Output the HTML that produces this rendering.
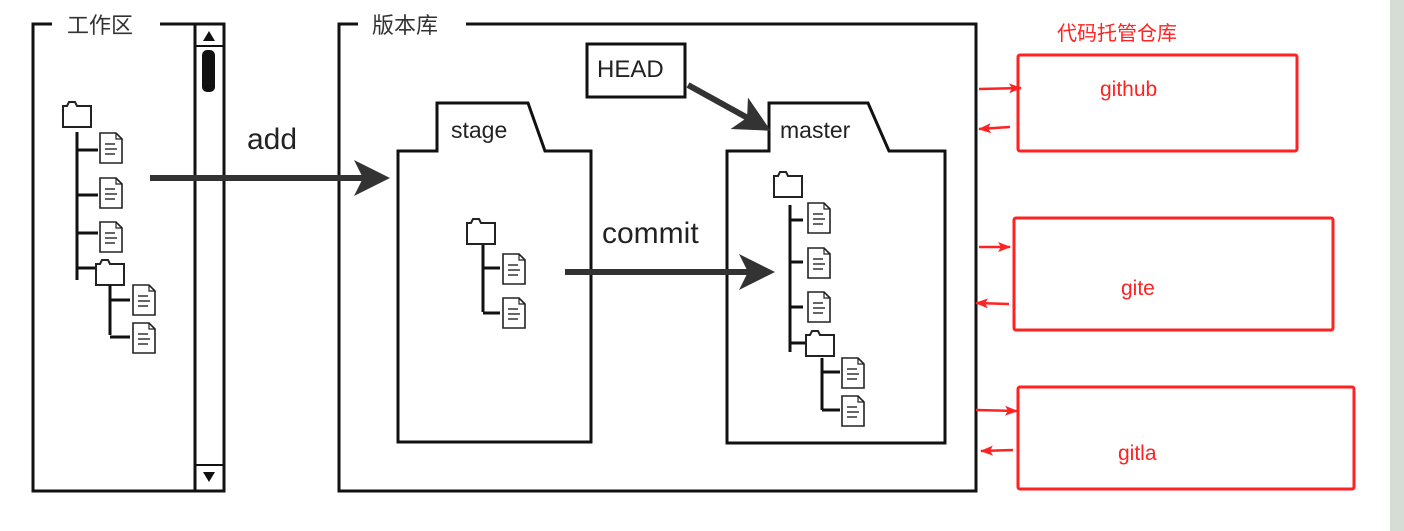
<!DOCTYPE html>
<html><head><meta charset="utf-8"><style>
html,body{margin:0;padding:0;background:#fff;width:1404px;height:531px;overflow:hidden}
svg{display:block}
</style></head><body>
<svg width="1404" height="531" viewBox="0 0 1404 531" xmlns="http://www.w3.org/2000/svg">
<defs>
<g id="f">
<path d="M0,0 H16 L22,6 V30 H0 Z" fill="#fff" stroke="#222" stroke-width="1.6"/>
<path d="M16,0 V6 H22" fill="none" stroke="#222" stroke-width="1.2"/>
<path d="M5,11 H15 M5,16 H17 M5,21 H15" stroke="#333" stroke-width="1.5"/>
</g>
<g id="d">
<path d="M0,4 H4 L6,0 H12 L14,4 H28 V25 H0 Z" fill="#fff" stroke="#222" stroke-width="2"/>
</g>
<marker id="ah" markerWidth="6" markerHeight="6" refX="3" refY="3" orient="auto" markerUnits="strokeWidth">
<path d="M0,0 L6,3 L0,6 L1.5,3 Z" fill="#333"/>
</marker>
<marker id="rh" markerWidth="13" markerHeight="10" refX="12" refY="5" orient="auto" markerUnits="userSpaceOnUse">
<path d="M0,0 L13,5 L0,10 L3,5 Z" fill="#f22"/>
</marker>
</defs>
<rect x="1390" y="0" width="14" height="531" fill="#d5ddd5"/>

<path d="M52,24 H33 V491 H224 V24 H160" fill="none" stroke="#111" stroke-width="3"/>
<text x="67" y="33" font-family="Liberation Sans,Noto Sans CJK SC,sans-serif" font-size="22" fill="#333">工作区</text>
<rect x="195" y="24" width="29" height="467" fill="#fff" stroke="#111" stroke-width="3"/>
<line x1="195" y1="46" x2="224" y2="46" stroke="#111" stroke-width="2"/>
<line x1="195" y1="465" x2="224" y2="465" stroke="#111" stroke-width="2"/>
<path d="M203,41 L209,31 L215,41 Z" fill="#111"/>
<path d="M203,472 L215,472 L209,482 Z" fill="#111"/>
<rect x="202" y="50" width="13" height="42" rx="5" fill="#111"/>

<use href="#d" x="63" y="102"/>
<path d="M77,132 V280 M77,150 H98 M77,195 H98 M77,233 H98 M77,268 H96" stroke="#111" stroke-width="3" fill="none"/>
<use href="#f" x="100" y="133"/>
<use href="#f" x="100" y="178"/>
<use href="#f" x="100" y="222"/>
<use href="#d" x="96" y="260"/>
<path d="M110,285 V335 M110,300 H130 M110,337 H130" stroke="#111" stroke-width="3" fill="none"/>
<use href="#f" x="133" y="285"/>
<use href="#f" x="133" y="323"/>

<path d="M358,24 H339 V491 H976 V24 H466" fill="none" stroke="#111" stroke-width="3"/>
<text x="372" y="33" font-family="Liberation Sans,Noto Sans CJK SC,sans-serif" font-size="22" fill="#333">版本库</text>

<path d="M398,442 V151 H437 V103 H528 L545,151 H591 V442 Z" fill="#fff" stroke="#111" stroke-width="3"/>
<text x="451" y="138" font-family="Liberation Sans,sans-serif" font-size="23" fill="#222">stage</text>
<use href="#d" x="467" y="219"/>
<path d="M483,245 V312 M483,268 H500 M483,313 H500" stroke="#111" stroke-width="3" fill="none"/>
<use href="#f" x="503" y="254"/>
<use href="#f" x="503" y="298"/>

<path d="M727,443 V151 H769 V103 H868 L889,151 H945 V443 Z" fill="#fff" stroke="#111" stroke-width="3"/>
<text x="780" y="138" font-family="Liberation Sans,sans-serif" font-size="23" fill="#222">master</text>
<use href="#d" x="774" y="172"/>
<path d="M790,205 V352 M790,220 H803 M790,262 H803 M790,307 H803 M790,343 H806" stroke="#111" stroke-width="3" fill="none"/>
<use href="#f" x="808" y="203"/>
<use href="#f" x="808" y="248"/>
<use href="#f" x="808" y="292"/>
<use href="#d" x="806" y="331"/>
<path d="M822,358 V410 M822,372 H840 M822,410 H840" stroke="#111" stroke-width="3" fill="none"/>
<use href="#f" x="842" y="358"/>
<use href="#f" x="842" y="396"/>

<rect x="587" y="44" width="98" height="53" fill="#fff" stroke="#111" stroke-width="3"/>
<text x="597" y="77" font-family="Liberation Sans,sans-serif" font-size="24" fill="#222">HEAD</text>
<line x1="688" y1="85" x2="755" y2="122" stroke="#333" stroke-width="6" marker-end="url(#ah)"/>

<line x1="150" y1="178" x2="372" y2="178" stroke="#333" stroke-width="6" marker-end="url(#ah)"/>
<text x="247" y="149" font-family="Liberation Sans,sans-serif" font-size="30" fill="#222">add</text>
<line x1="565" y1="272" x2="757" y2="272" stroke="#333" stroke-width="6" marker-end="url(#ah)"/>
<text x="602" y="243" font-family="Liberation Sans,sans-serif" font-size="30" fill="#222">commit</text>

<g font-family="Liberation Sans,Noto Sans CJK SC,sans-serif" fill="#f22" font-size="21">
<text x="1057" y="40" font-size="20">代码托管仓库</text>
<text x="1100" y="96">github</text>
<text x="1121" y="295">gite</text>
<text x="1118" y="460">gitla</text>
</g>
<g fill="none" stroke="#f22" stroke-width="3">
<rect x="1018" y="55" width="279" height="96" rx="2"/>
<rect x="1014" y="218" width="319" height="112" rx="2"/>
<rect x="1018" y="387" width="336" height="102" rx="2"/>
</g>
<g stroke="#f22" stroke-width="2.5" marker-end="url(#rh)">
<line x1="979" y1="89" x2="1021" y2="88"/>
<line x1="1010" y1="127" x2="979" y2="129"/>
<line x1="979" y1="247" x2="1010" y2="247"/>
<line x1="1009" y1="304" x2="976" y2="303"/>
<line x1="976" y1="410" x2="1017" y2="411"/>
<line x1="1013" y1="450" x2="981" y2="451"/>
</g>
</svg>
</body></html>
